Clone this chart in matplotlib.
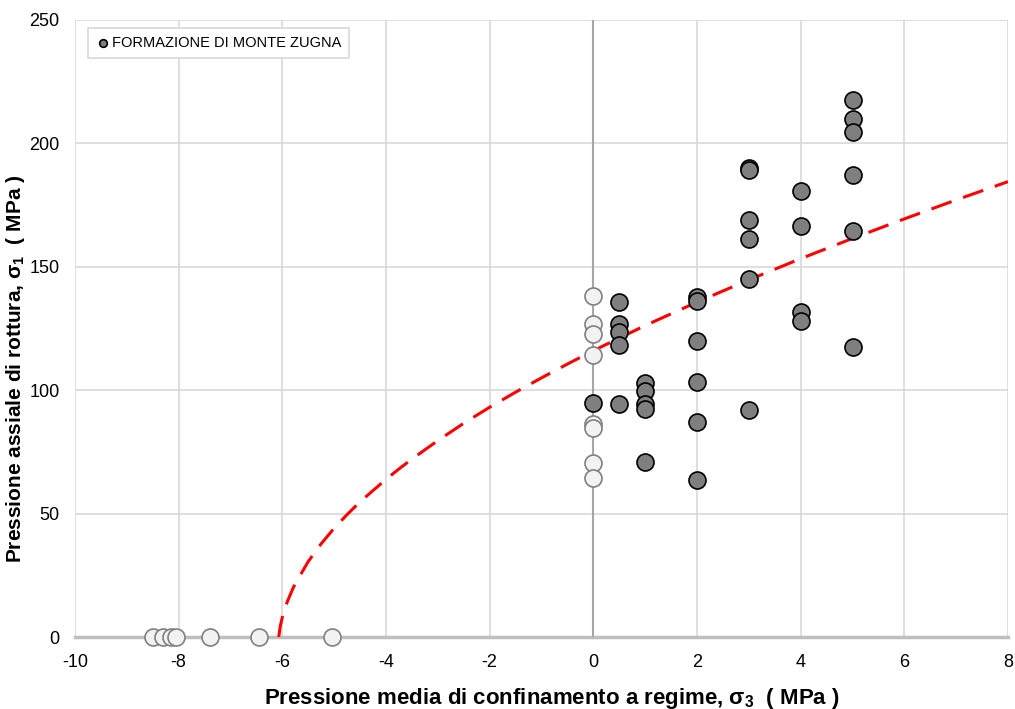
import numpy as np
import matplotlib.pyplot as plt

plt.rcParams['font.family'] = ['Liberation Sans', 'DejaVu Sans']
plt.rcParams['axes.unicode_minus'] = False
plt.rcParams['mathtext.fontset'] = 'custom'
plt.rcParams['mathtext.bf'] = 'Liberation Sans:bold'
plt.rcParams['mathtext.rm'] = 'Liberation Sans'

# prove di laboratorio (sigma3, sigma1) - punti grigi
s3_grey = [0, 0.5, 0.5, 0.5, 0.5, 0.5,
           1, 1, 1, 1, 1,
           2, 2, 2, 2, 2, 2,
           3, 3, 3, 3, 3, 3,
           4, 4, 4, 4,
           5, 5, 5, 5, 5, 5]
s1_grey = [94.8, 135.7, 126.8, 123.6, 118.3, 94.4,
           102.9, 99.7, 94.4, 92.4, 70.9,
           137.8, 136.3, 119.9, 103.5, 87.1, 63.6,
           190.0, 189.4, 169.0, 161.4, 145.0, 92.0,
           180.7, 166.4, 131.5, 128.2,
           217.5, 210.0, 204.5, 187.2, 164.5, 117.5]

# punti bianchi: compressione monoassiale e trazione
s3_white = [0, 0, 0, 0, 0, 0, 0, 0,
            -8.5, -8.3, -8.15, -8.05, -7.4, -6.45, -5.05]
s1_white = [138.3, 126.8, 122.6, 114.2, 86.3, 84.5, 70.3, 64.5,
            0, 0, 0, 0, 0, 0, 0]

# curva di resistenza
curve_s3 = [-6.07, -6.04, -6.0, -5.95, -5.9, -5.8, -5.75, -5.5, -5.25, -5.0,
            -4.75, -4.5, -4.0, -3.75, -3.5, -3.0, -2.5, -2.0, -1.5, -1.0,
            -0.5, 0, 1, 2, 3, 4, 5, 6, 7, 8]
curve_s1 = [0, 4.3, 8.0, 11.6, 14.5, 19.5, 21.6, 30.6, 37.8, 44.1,
            49.6, 54.8, 63.9, 68.1, 72.1, 79.6, 86.6, 93.1, 99.2, 105.0,
            110.6, 116.0, 126.2, 135.7, 144.7, 153.3, 161.5, 169.4, 177.1, 184.5]

xticks = np.arange(-10, 9, 2)
yticks = np.arange(0, 251, 50)

fig = plt.figure(figsize=(10.15, 7.09), dpi=100)
ax = fig.add_axes([75/1015, 72/709, 933/1015, 617/709])

ax.set_xlim(-10, 8)
ax.set_ylim(0, 250)
ax.set_xticks(xticks)
ax.set_yticks(yticks)
ax.tick_params(length=0, labelsize=13, pad=12)
ax.tick_params(axis='y', pad=11)
ax.grid(True, color='#d9d9d9', lw=1.2, zorder=0)
ax.set_axisbelow(True)
for sp in ax.spines.values():
    sp.set_visible(False)
ax.axhline(0, color='#bfbfbf', lw=2.5, zorder=1, clip_on=False)
ax.axvline(0, color='#a6a6a6', lw=1.5, zorder=1)

ax.plot(curve_s3, curve_s1, color='#ff0000', lw=2.2, dashes=(7, 4), zorder=2)

ax.scatter(s3_white, s1_white, s=150, facecolor='#f2f2f2', edgecolor='#808080',
           lw=1.2, zorder=3, clip_on=False)
ax.scatter(s3_grey, s1_grey, s=150, facecolor='#7f7f7f', edgecolor='black',
           lw=1.2, zorder=4, label='FORMAZIONE DI MONTE ZUGNA')

leg = ax.legend(loc='upper left', bbox_to_anchor=(13/933, 1 - 8/617), fontsize=10.5,
                frameon=True, fancybox=False, edgecolor='#d9d9d9', framealpha=1,
                markerscale=0.45, handletextpad=0.1, borderpad=0.55,
                handlelength=1.0, borderaxespad=0)
leg.get_frame().set_linewidth(1.2)

ax.set_xlabel(r'Pressione media di confinamento a regime, $\mathbf{\sigma_3}$  ( MPa )',
              fontsize=16, fontweight='bold')
ax.set_ylabel(r'Pressione assiale di rottura, $\mathbf{\sigma_1}$  ( MPa )',
              fontsize=15, fontweight='bold')
ax.xaxis.set_label_coords(0.511, -0.079)
ax.yaxis.set_label_coords(-0.051, 0.435)

fig.savefig('out.png', dpi=100)
